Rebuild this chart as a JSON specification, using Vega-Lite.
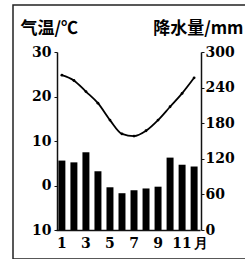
{
  "$schema": "https://vega.github.io/schema/vega-lite/v6.json",
  "width": 240,
  "height": 254,
  "autosize": {"type": "none"},
  "padding": {"left": 13, "top": 5, "right": 0, "bottom": 0},
  "background": "white",
  "config": {
    "view": {"stroke": "#222", "strokeWidth": 1.5},
    "axis": {
      "labelFont": "DejaVu Serif",
      "labelFontWeight": "bold",
      "labelFontSize": 14,
      "labelColor": "black",
      "domainColor": "#111",
      "domainWidth": 1.5,
      "tickColor": "#111",
      "grid": false,
      "titleFont": "Noto Sans CJK SC",
      "titleFontWeight": "bold",
      "titleFontSize": 17,
      "titleColor": "black"
    }
  },
  "data": {
    "values": [
      {"month": 1, "temp": 24.8, "precip": 117},
      {"month": 2, "temp": 23.6, "precip": 114},
      {"month": 3, "temp": 21.1, "precip": 131},
      {"month": 4, "temp": 18.5, "precip": 99},
      {"month": 5, "temp": 14.7, "precip": 72},
      {"month": 6, "temp": 11.6, "precip": 62},
      {"month": 7, "temp": 11.1, "precip": 67},
      {"month": 8, "temp": 12.3, "precip": 70},
      {"month": 9, "temp": 14.7, "precip": 73},
      {"month": 10, "temp": 17.7, "precip": 122},
      {"month": 11, "temp": 20.7, "precip": 110},
      {"month": 12, "temp": 24.2, "precip": 107}
    ]
  },
  "encoding": {
    "x": {
      "field": "month",
      "type": "ordinal",
      "scale": {"range": [43, 187], "paddingInner": 0.42, "paddingOuter": 0.2},
      "axis": {
        "orient": "bottom",
        "offset": -29,
        "title": null,
        "ticks": false,
        "labelAngle": 0,
        "labelPadding": 6,
        "labelExpr": "datum.value == 12 ? '月' : (datum.value % 2 == 1 ? datum.label : '')",
        "labelAlign": {"condition": {"test": "datum.value == 12", "value": "left"}, "value": "center"}
      }
    }
  },
  "layer": [
    {
      "mark": {"type": "bar", "color": "black"},
      "encoding": {
        "y": {
          "field": "precip",
          "type": "quantitative",
          "scale": {"domain": [0, 300], "range": [225, 47], "nice": false},
          "axis": {
            "orient": "right",
            "offset": -52,
            "values": [0, 60, 120, 180, 240, 300],
            "tickSize": 3,
            "labelPadding": 1,
            "title": "降水量/mm",
            "titleAngle": 0,
            "titleAlign": "right",
            "titleBaseline": "alphabetic",
            "titleX": 42,
            "titleY": 28
          }
        }
      }
    },
    {
      "mark": {
        "type": "line",
        "color": "black",
        "strokeWidth": 1.8,
        "interpolate": "monotone",
        "point": {"filled": true, "color": "black", "size": 8}
      },
      "encoding": {
        "y": {
          "field": "temp",
          "type": "quantitative",
          "scale": {"domain": [-10, 30], "range": [225, 47], "nice": false},
          "axis": {
            "orient": "left",
            "offset": -44,
            "values": [-10, 0, 10, 20, 30],
            "labelExpr": "format(abs(datum.value), 'd')",
            "tickSize": 3,
            "labelPadding": 3,
            "title": "气温/℃",
            "titleAngle": 0,
            "titleAlign": "left",
            "titleBaseline": "alphabetic",
            "titleX": -37,
            "titleY": 28
          }
        }
      }
    }
  ],
  "resolve": {"scale": {"y": "independent"}}
}
